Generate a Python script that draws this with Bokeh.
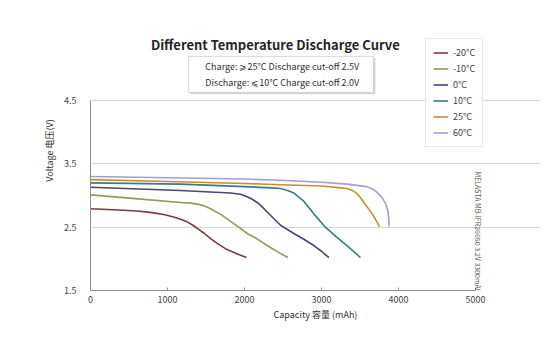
import math
from bokeh.plotting import figure
from bokeh.models import Label, BoxAnnotation, Legend, LegendItem, FixedTicker
from bokeh.embed import file_html
from bokeh.resources import INLINE

series_names = ["-20°C", "-10°C", "0°C", "10°C", "25°C", "60°C"]
series_colors = ["#7b3b3f", "#8f9c5c", "#4a4573", "#3c7a8a", "#c4902f", "#a79dcb"]

cap_m20 = [0, 370, 600, 800, 950, 1080, 1180, 1260, 1330, 1400, 1480, 1560, 1650, 1753, 1900, 2026]
volt_m20 = [2.79, 2.77, 2.755, 2.73, 2.70, 2.66, 2.62, 2.58, 2.53, 2.47, 2.40, 2.32, 2.24, 2.16, 2.08, 2.02]

cap_m10 = [0, 584, 1169, 1300, 1407, 1490, 1558, 1680, 1775, 1926, 2035, 2143, 2294, 2430, 2563]
volt_m10 = [3.01, 2.95, 2.89, 2.88, 2.86, 2.83, 2.79, 2.71, 2.63, 2.50, 2.40, 2.33, 2.21, 2.11, 2.02]

cap_0 = [0, 1169, 1818, 1950, 2035, 2100, 2165, 2230, 2294, 2468, 2641, 2770, 2900, 3000, 3095]
volt_0 = [3.13, 3.08, 3.04, 3.02, 2.98, 2.94, 2.89, 2.82, 2.74, 2.53, 2.40, 2.31, 2.21, 2.12, 2.02]

cap_10 = [0, 1170, 2000, 2350, 2470, 2560, 2640, 2700, 2770, 2900, 3050, 3200, 3350, 3506]
volt_10 = [3.20, 3.18, 3.14, 3.12, 3.11, 3.08, 3.04, 2.98, 2.91, 2.71, 2.50, 2.34, 2.19, 2.02]

cap_25 = [0, 1000, 2000, 2470, 3000, 3250, 3330, 3400, 3460, 3510, 3550, 3660, 3755]
volt_25 = [3.25, 3.22, 3.19, 3.17, 3.15, 3.12, 3.11, 3.08, 3.03, 2.96, 2.89, 2.71, 2.51]

cap_60 = [0, 1000, 2000, 2470, 3000, 3330, 3590, 3670, 3720, 3770, 3810, 3840, 3860, 3873, 3880]
volt_60 = [3.30, 3.28, 3.26, 3.24, 3.21, 3.18, 3.14, 3.10, 3.05, 2.99, 2.92, 2.85, 2.76, 2.65, 2.51]

caps = [cap_m20, cap_m10, cap_0, cap_10, cap_25, cap_60]
volts = [volt_m20, volt_m10, volt_0, volt_10, volt_25, volt_60]

x_ticks = [0, 1000, 2000, 3000, 4000, 5000]
y_ticks = [1.5, 2.5, 3.5, 4.5]

title_text = "Different Temperature Discharge Curve"
note_line1 = "Charge: ⩾25°C Discharge cut-off 2.5V"
note_line2 = "Discharge: ⩽10°C Charge cut-off 2.0V"
side_text = "MELASTA MB-IFR26650 3.2V 3300mAh"
x_title = "Capacity 容量 (mAh)"
y_title = "Voltage 电压(V)"

FONT = "Noto Sans CJK SC"

# frame extends above/right of the axes so that header texts are not clipped
p = figure(width=550, height=356, x_range=(0, 5844), y_range=(1.5, 5.921),
           output_backend="svg", toolbar_location=None,
           min_border_left=90, min_border_right=10, min_border_top=10, min_border_bottom=66)
p.outline_line_color = None
p.background_fill_color = "white"
p.border_fill_color = "white"

p.xaxis.ticker = FixedTicker(ticks=x_ticks)
p.yaxis.ticker = FixedTicker(ticks=y_ticks)
p.xaxis.bounds = (0, 5000)
p.yaxis.bounds = (1.5, 4.5)
p.xgrid.grid_line_color = None
p.ygrid.grid_line_color = "#d9d9d9"
p.ygrid.grid_line_width = 1
p.ygrid.bounds = (0, 5000)

for ax in (p.xaxis, p.yaxis):
    ax.axis_line_color = "#8c8c8c"
    ax.major_label_text_font = FONT
    ax.major_label_text_font_size = "9px"
    ax.major_label_text_color = "#444444"
    ax.axis_label_text_font = FONT
    ax.axis_label_text_font_size = "9px"
    ax.axis_label_text_color = "#333333"
    ax.axis_label_text_font_style = "normal"
    ax.minor_tick_line_color = None

p.xaxis.major_tick_in = 3
p.xaxis.major_tick_out = 0
p.xaxis.major_tick_line_color = "#8c8c8c"
p.xaxis.major_label_standoff = 5
p.xaxis.axis_label_standoff = 2
p.xaxis.axis_label = x_title

p.yaxis.major_tick_line_color = None
p.yaxis.major_label_standoff = 8
p.yaxis.axis_label_standoff = 5
p.yaxis.axis_label = y_title

items = []
for name, col, cx, vy in zip(series_names, series_colors, caps, volts):
    r = p.line(cx, vy, line_color=col, line_width=1.6, line_join="round")
    items.append(LegendItem(label=name, renderers=[r]))

legend = Legend(items=items, location=(335, 143))
legend.label_text_font = FONT
legend.label_text_font_size = "9px"
legend.label_text_color = "#444444"
legend.glyph_width = 15
legend.glyph_height = 11
legend.label_height = 11
legend.spacing = 3
legend.padding = 7
legend.margin = 0
legend.label_standoff = 5
legend.border_line_color = "#d0d0d0"
legend.background_fill_color = "white"
legend.background_fill_alpha = 1.0
p.add_layout(legend, "center")

# note box with shadow
p.add_layout(BoxAnnotation(left=1300, right=3700, top=5.17, bottom=4.60,
                           fill_color="#bdbdbd", fill_alpha=0.6, line_color=None))
p.add_layout(BoxAnnotation(left=1273, right=3675, top=5.195, bottom=4.626,
                           fill_color="white", fill_alpha=1.0, line_color="#8c8c8c", line_width=1))

p.add_layout(Label(x=2400, y=5.384, text=title_text, text_align="center", text_baseline="middle",
                   text_font=FONT, text_font_size="13px", text_font_style="bold",
                   text_color="#262626"))
p.add_layout(Label(x=2490, y=5.04, text=note_line1, text_align="center", text_baseline="middle",
                   text_font=FONT, text_font_size="9px", text_color="#333333"))
p.add_layout(Label(x=2490, y=4.79, text=note_line2, text_align="center", text_baseline="middle",
                   text_font=FONT, text_font_size="9px", text_color="#333333"))
p.add_layout(Label(x=5026, y=2.42, text=side_text, angle=-math.pi / 2, text_align="center",
                   text_baseline="middle", text_font=FONT, text_font_size="7px", text_color="#555555"))

open("out.html", "w").write(file_html(p, INLINE))
